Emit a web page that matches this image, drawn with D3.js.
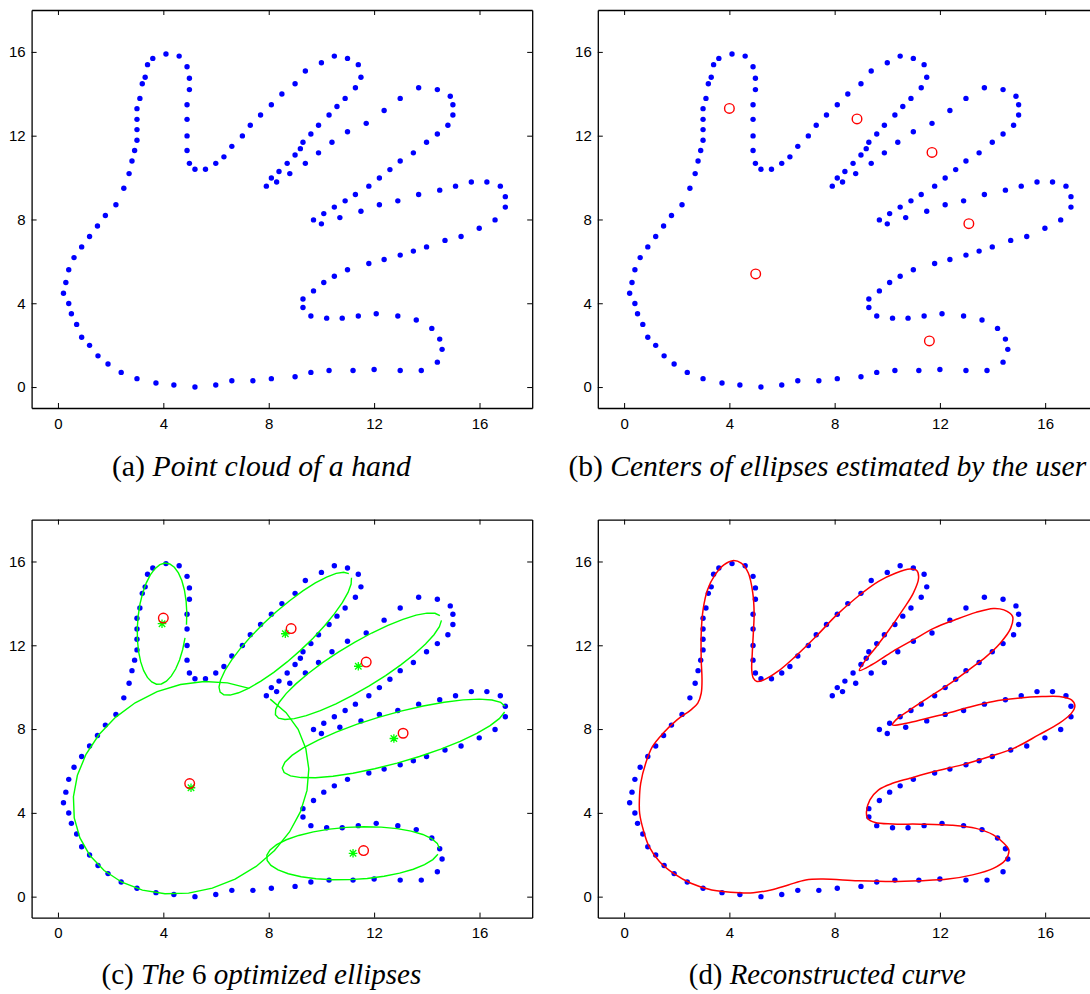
<!DOCTYPE html>
<html>
<head>
<meta charset="utf-8">
<script src="https://cdn.jsdelivr.net/npm/d3@7"></script>
<style>
body { margin: 0; background: #fff; }
svg { display: block; }
.tick text { font-family: Arial, "Liberation Sans", sans-serif; font-size: 15px; fill: #000; }
.tick line, .domain { stroke: #000; }
.caption { font-family: "Liberation Serif", "DejaVu Serif", serif; fill: #000; }
</style>
</head>
<body>
<div id="fig"></div>
<script>
// point cloud of the hand
var handX = [5.2,4.4,3.72,3.0,2.4,1.9,1.52,1.2,0.9,0.71,0.51,0.41,0.21,0.3,0.41,0.61,0.9,1.2,1.5,1.8,
    2.2,2.5,2.7,2.81,2.91,3.0,3.0,3.0,3.0,3.11,3.2,3.31,3.4,3.6,4.1,4.6,4.9,4.99,4.99,4.9,
    4.9,4.9,4.9,4.99,5.2,5.6,5.99,6.3,6.6,7.0,7.3,7.69,8.1,8.5,9.0,9.39,10.0,10.49,10.99,11.4,
    11.5,11.29,10.9,10.59,10.29,9.89,9.6,9.3,9.2,9.0,8.7,8.39,8.1,7.91,
    8.3,8.8,9.39,9.89,10.4,10.99,11.7,12.38,12.99,13.69,14.4,14.89,14.99,14.99,14.8,14.4,13.99,13.49,12.99,12.6,
    12.2,11.8,11.29,10.9,10.49,10.09,9.7,
    10.0,10.7,11.5,12.2,12.9,13.69,14.49,15.09,15.69,16.28,16.79,16.98,16.98,16.59,15.99,15.3,14.69,13.99,13.49,12.99,
    12.38,11.8,10.99,10.49,10.09,9.7,9.3,9.3,
    9.6,10.2,10.79,11.4,12.08,12.9,13.6,14.19,14.49,14.58,14.4,13.79,12.99,12.0,11.2,10.29,9.6,9.0,8.1,7.4,
    6.6,5.99];
var handY = [0.0,0.1,0.19,0.4,0.7,1.1,1.49,1.99,2.38,2.99,3.5,3.99,4.48,4.99,5.6,6.18,6.69,7.19,7.69,8.19,
    8.7,9.49,10.19,10.79,11.29,11.78,12.29,12.78,13.29,13.78,14.48,14.79,15.39,15.69,15.9,15.8,15.29,14.74,14.2,13.48,
    12.78,11.99,11.29,10.68,10.4,10.4,10.68,10.99,11.49,11.99,12.5,12.99,13.48,13.99,14.48,15.09,15.48,15.8,15.69,15.39,
    14.79,14.29,13.78,13.39,12.99,12.5,12.08,11.69,11.38,11.08,10.68,10.29,9.98,9.59,
    9.79,10.19,10.68,11.18,11.69,12.19,12.59,13.2,13.78,14.29,14.2,13.88,13.48,12.99,12.5,12.08,11.69,11.18,10.79,10.38,
    9.98,9.59,9.19,8.89,8.59,8.28,7.98,
    7.79,8.09,8.39,8.7,8.89,9.19,9.4,9.59,9.79,9.79,9.59,9.09,8.59,7.98,7.58,7.19,7.0,6.69,6.49,6.3,
    6.09,5.9,5.6,5.29,4.99,4.59,4.2,3.8,
    3.39,3.29,3.29,3.39,3.5,3.39,3.2,2.8,2.29,1.8,1.19,0.79,0.79,0.84,0.79,0.79,0.7,0.49,0.4,0.3,
    0.3,0.1];

// centers guessed by the user (red circles)
var userX = [4.0, 8.85, 11.7, 13.1, 5.0, 11.6];
var userY = [13.3, 12.8, 11.2, 7.8, 5.4, 2.2];

// optimized centers (green stars) and ellipse shapes
var optX = [3.95, 8.63, 11.4, 12.75, 5.05, 11.2];
var optY = [13.03, 12.55, 11.0, 7.55, 5.2, 2.07];
var ellA = [0.93, 3.75, 3.93, 4.49, 5.23, 3.29];
var ellB = [2.9, 0.95, 1.0, 1.15, 4.29, 1.25];
var ellAngle = [-3, 50, 38, 20, 65, 4];

// reconstructed curve
var curveX = [4.39,3.33,2.54,1.88,1.35,0.95,0.73,0.59,0.58,0.63,0.82,1.08,1.48,2.01,2.54,2.80,2.93,2.96,2.93,2.93,
    3.0,3.17,3.46,3.79,4.12,4.45,4.72,4.89,4.94,4.91,4.87,4.85,4.91,5.05,5.31,5.84,6.5,7.29,8.08,8.88,
    9.67,10.33,10.86,11.12,11.19,10.99,10.59,10.07,9.54,9.14,8.94,
    9.41,10.2,10.99,11.78,12.58,13.37,14.03,14.43,14.76,14.69,14.29,13.76,13.1,12.31,11.52,10.86,10.33,10.2,
    10.73,11.52,12.31,13.1,14.03,14.95,15.88,16.54,17.0,17.13,17.0,16.54,15.75,14.82,13.9,12.84,11.78,10.86,10.2,9.67,
    9.34,9.21,9.25,9.54,10.2,11.25,12.44,13.37,14.03,14.43,14.62,14.49,14.03,13.24,12.31,11.25,10.2,8.88,7.56,6.9,
    6.24,5.58,4.91];
var curveY = [0.19,0.32,0.64,1.11,1.67,2.39,3.18,3.98,4.62,5.41,6.37,7.17,7.8,8.44,8.92,9.24,9.71,10.35,11.31,12.58,
    13.69,14.65,15.37,15.84,16.04,15.92,15.45,14.49,13.54,12.58,11.62,10.83,10.43,10.27,10.35,10.75,11.46,12.42,13.45,14.33,
    15.05,15.45,15.64,15.57,15.21,14.49,13.69,12.74,11.86,11.23,10.8,
    11.07,11.7,12.26,12.82,13.22,13.57,13.76,13.69,13.38,12.82,12.1,11.46,10.83,10.11,9.47,8.92,8.44,8.2,
    8.28,8.52,8.76,9.04,9.32,9.47,9.55,9.55,9.39,9.11,8.76,8.28,7.72,7.09,6.69,6.29,5.97,5.65,5.41,5.1,
    4.62,4.06,3.74,3.54,3.47,3.46,3.41,3.26,2.95,2.55,2.23,1.75,1.35,1.04,0.84,0.76,0.72,0.76,0.84,0.8,
    0.56,0.32,0.19];

var tickVals = [0, 4, 8, 12, 16];
var axisDomain = [-1, 18];

var captions = [
    [["(a) ", "normal"], ["Point cloud of a hand", "italic"]],
    [["(b) ", "normal"], ["Centers of ellipses estimated by the user", "italic"]],
    [["(c) ", "normal"], ["The ", "italic"], ["6", "normal"], [" optimized ellipses", "italic"]],
    [["(d) ", "normal"], ["Reconstructed curve", "italic"]]
];

var hand = handX.map(function(v, i) { return [v, handY[i]]; });
var curvePts = curveX.map(function(v, i) { return [v, curveY[i]]; });

// layout of the four boxes
var cols = [{left: 31.6, right: 532.2}, {left: 597.8, right: 1097.8}];
var rows = [{top: 10, bottom: 408, capY: 476}, {top: 519.6, bottom: 917.6, capY: 984}];
var capWidth = [299, 518, 320, 277];

var svg = d3.select("#fig").append("svg")
    .attr("width", 1090)
    .attr("height", 994);

svg.append("rect").attr("width", 1090).attr("height", 994).attr("fill", "#fff");

// sample an ellipse the way the figure does: leaves a small gap at t = 0
function ellipsePoints(i) {
    var pts = [];
    var n = 30, gap = 0.22;
    var th = ellAngle[i] * Math.PI / 180;
    for (var k = 0; k <= n; k++) {
        var t = k * (2 * Math.PI - gap) / n;
        var u = ellA[i] * Math.cos(t), v = ellB[i] * Math.sin(t);
        pts.push([optX[i] + u * Math.cos(th) - v * Math.sin(th),
                  optY[i] + u * Math.sin(th) + v * Math.cos(th)]);
    }
    return pts;
}

function makePanel(idx) {
    var c = cols[idx % 2], r = rows[Math.floor(idx / 2)];
    var x = d3.scaleLinear().domain(axisDomain).range([c.left, c.right]);
    var y = d3.scaleLinear().domain(axisDomain).range([r.bottom, r.top]);
    var g = svg.append("g");

    g.append("rect")
        .attr("x", c.left).attr("y", r.top)
        .attr("width", c.right - c.left).attr("height", r.bottom - r.top)
        .attr("fill", "#fff");

    // axes with inward ticks on all four sides
    g.append("g")
        .attr("transform", "translate(0," + r.bottom + ")")
        .call(d3.axisBottom(x).tickValues(tickVals).tickSizeInner(-5).tickSizeOuter(0).tickPadding(10));
    g.append("g")
        .attr("transform", "translate(0," + r.top + ")")
        .call(d3.axisTop(x).tickValues(tickVals).tickSizeInner(-5).tickSizeOuter(0).tickFormat(""));
    g.append("g")
        .attr("transform", "translate(" + c.left + ",0)")
        .call(d3.axisLeft(y).tickValues(tickVals).tickSizeInner(-5).tickSizeOuter(0).tickPadding(6));
    g.append("g")
        .attr("transform", "translate(" + c.right + ",0)")
        .call(d3.axisRight(y).tickValues(tickVals).tickSizeInner(-5).tickSizeOuter(0).tickFormat(""));
    g.selectAll(".domain").attr("stroke-width", 1.3);

    g.selectAll(".hand-dot")
        .data(hand)
        .enter()
        .append("circle")
        .attr("class", "hand-dot")
        .attr("cx", function(d) { return x(d[0]); })
        .attr("cy", function(d) { return y(d[1]); })
        .attr("r", 2.7)
        .attr("fill", "#0000ff");

    var line = d3.line()
        .x(function(d) { return x(d[0]); })
        .y(function(d) { return y(d[1]); });

    if (idx === 2) {
        for (var i = 0; i < ellA.length; i++) {
            g.append("path")
                .datum(ellipsePoints(i))
                .attr("d", line)
                .attr("fill", "none")
                .attr("stroke", "#00ff00")
                .attr("stroke-width", 1.4);
        }
        // stars: '+' and 'x' together
        var s = 4.3, s2 = s * 0.75;
        var star = "M" + (-s) + ",0L" + s + ",0M0," + (-s) + "L0," + s +
            "M" + (-s2) + "," + (-s2) + "L" + s2 + "," + s2 +
            "M" + (-s2) + "," + s2 + "L" + s2 + "," + (-s2);
        g.selectAll(".opt")
            .data(optX)
            .enter()
            .append("path")
            .attr("class", "opt")
            .attr("transform", function(d, i) { return "translate(" + x(d) + "," + y(optY[i]) + ")"; })
            .attr("d", star)
            .attr("stroke", "#00ff00")
            .attr("stroke-width", 1.3)
            .attr("fill", "none");
    }

    if (idx === 1 || idx === 2) {
        g.selectAll(".user")
            .data(userX)
            .enter()
            .append("circle")
            .attr("class", "user")
            .attr("cx", function(d) { return x(d); })
            .attr("cy", function(d, i) { return y(userY[i]); })
            .attr("r", 4.8)
            .attr("fill", "none")
            .attr("stroke", "#ff0000")
            .attr("stroke-width", 1.4);
    }

    if (idx === 3) {
        g.append("path")
            .datum(curvePts)
            .attr("d", line.curve(d3.curveCatmullRomClosed.alpha(0.5)))
            .attr("fill", "none")
            .attr("stroke", "#ff0000")
            .attr("stroke-width", 1.5);
    }

    // caption under the box, fitted to the width it has in the figure
    var cap = svg.append("text")
        .attr("class", "caption")
        .attr("x", (c.left + c.right) / 2 - 20.5)
        .attr("y", r.capY)
        .attr("text-anchor", "middle")
        .style("font-size", "20px");
    captions[idx].forEach(function(p) {
        cap.append("tspan").attr("font-style", p[1]).text(p[0]);
    });
    var len = cap.node().getComputedTextLength();
    cap.style("font-size", (20 * capWidth[idx] / len) + "px");
}

for (var p = 0; p < 4; p++) makePanel(p);
</script>
</body>
</html>
